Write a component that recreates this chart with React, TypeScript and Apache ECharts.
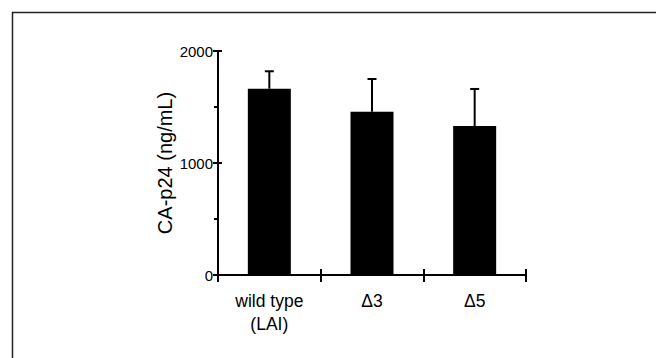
import React, { useEffect, useRef } from "react";
import * as echarts from "echarts";

const categories = ["wild type\n(LAI)", "Δ3", "Δ5"];
const means = [1663, 1458, 1330];
const upperErrors = [1819, 1750, 1661];
const yMin = 0;
const yMax = 2000;
const yInterval = 1000;
const yAxisName = "CA-p24 (ng/mL)";

const FONT = "'Liberation Sans', Arial, Helvetica, sans-serif";

export default function App() {
  const ref = useRef<HTMLDivElement>(null);
  useEffect(() => {
    if (!ref.current) return;
    const chart = echarts.init(ref.current, null, { renderer: "svg" });
    const errData = categories.map((_, i) => [i, means[i], upperErrors[i]]);
    chart.setOption({
      animation: false,
      backgroundColor: "#fff",
      textStyle: { fontFamily: FONT },
      graphic: [
        {
          type: "rect",
          silent: true,
          shape: { x: 12.5, y: 12.5, width: 700, height: 400 },
          style: { fill: "none", stroke: "#222", lineWidth: 1.5 },
        },
      ],
      grid: { left: 218, right: 130, top: 51, bottom: 83, containLabel: false },
      xAxis: [
        {
          type: "category",
          data: categories,
          axisLine: { show: true, lineStyle: { color: "#000", width: 2 } },
          axisTick: { show: true, length: 7, lineStyle: { color: "#000", width: 2 } },
          axisLabel: {
            color: "#000",
            fontSize: 17.5,
            lineHeight: 23,
            margin: 14,
            fontFamily: FONT,
          },
        },
        {
          type: "category",
          data: categories,
          position: "bottom",
          axisLine: { show: false },
          axisTick: { show: true, inside: true, length: 6, lineStyle: { color: "#000", width: 2 } },
          axisLabel: { show: false },
        },
      ],
      yAxis: [
        {
          type: "value",
          min: yMin,
          max: yMax,
          interval: yInterval,
          name: yAxisName,
          nameLocation: "middle",
          nameGap: 43,
          nameTextStyle: { color: "#000", fontSize: 20, fontFamily: FONT },
          axisLine: { show: true, lineStyle: { color: "#000", width: 2 } },
          axisTick: { show: true, length: 5, lineStyle: { color: "#000", width: 2 } },
          minorTick: { show: true, splitNumber: 2, length: 4, lineStyle: { color: "#000", width: 2 } },
          splitLine: { show: false },
          minorSplitLine: { show: false },
          axisLabel: {
            color: "#000",
            fontSize: 15,
            margin: 5,
            fontFamily: FONT,
            formatter: (v: number) => String(v),
          },
        },
        {
          type: "value",
          min: yMin,
          max: yMax,
          interval: yInterval,
          position: "left",
          axisLine: { show: false },
          axisTick: { show: true, inside: true, length: 4, lineStyle: { color: "#000", width: 2 } },
          splitLine: { show: false },
          axisLabel: { show: false },
        },
      ],
      series: [
        {
          type: "bar",
          data: means,
          barWidth: 43,
          itemStyle: { color: "#000" },
        },
        {
          type: "custom",
          data: errData,
          encode: { x: 0, y: [1, 2] },
          z: 5,
          renderItem: (params: any, api: any) => {
            const i = api.value(0);
            const base = api.coord([i, api.value(1)]);
            const top = api.coord([i, api.value(2)]);
            const style = { stroke: "#000", lineWidth: 2 };
            return {
              type: "group",
              children: [
                { type: "line", shape: { x1: top[0], y1: base[1], x2: top[0], y2: top[1] }, style },
                { type: "line", shape: { x1: top[0] - 4.5, y1: top[1], x2: top[0] + 4.5, y2: top[1] }, style },
              ],
            };
          },
        },
      ],
    });
    return () => chart.dispose();
  }, []);
  return (
    <div
      ref={ref}
      style={{ position: "absolute", left: 0, top: 0, width: 656, height: 358 }}
    />
  );
}
